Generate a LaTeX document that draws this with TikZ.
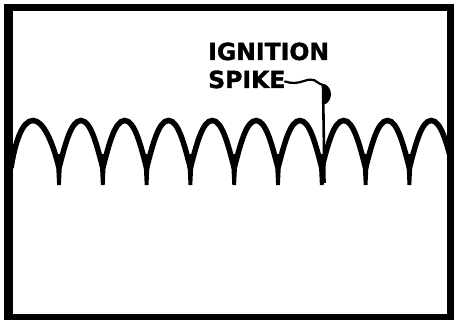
\documentclass[tikz,border=0pt]{standalone}
\usepackage{fontspec}
\newfontfamily\labfont{DejaVu Sans}[BoldFont={DejaVu Sans Bold},BoldFeatures={FakeBold=1.5}]
\begin{document}
\begin{tikzpicture}[x=1pt,y=-1pt,
  wave/.style={line width=5.5pt},
  frame/.style={line width=6.5pt},
  lab/.style={font=\labfont\bfseries\fontsize{23.5}{23.5}\selectfont, inner sep=0pt, anchor=base west},
  leader/.style={line width=2.2pt, line cap=round}]
\useasboundingbox (0,0) rectangle (454,323);
\begin{scope}
  \clip (12,11) rectangle (449,314);
  % first (partial) arch
  \draw[wave] (11,168) .. controls (15,143) and (22,120.5) .. (33,120.5)
                       .. controls (43.5,120.5) and (53,143) .. (59,168);
  \foreach \i in {0,...,9}{
    \pgfmathsetmacro\c{59+43.8*\i}
    \draw[wave] (\c,168) .. controls (\c+6,145) and (\c+12,120.5) .. (\c+21.9,120.5)
                         .. controls (\c+31.8,120.5) and (\c+37.8,145) .. (\c+43.8,168);
    \fill (\c-3.4,154) -- (\c+3.4,154) -- (\c+1.9,185) -- (\c-1.9,185) -- cycle;
  }
\end{scope}
% frame
\draw[frame] (8.5,7.5) rectangle (450.5,317);
\fill (4,4.5) rectangle (12.5,320);
% labels
\node[lab] (ign) at (208,60) {IGNITION};
\node[lab] (spk) at (208,88) {SPIKE};
% ignition spike marker
\coordinate (lstart) at (285,81.5);
\coordinate (stop) at (323,85);
\coordinate (sbot) at (324.5,183);
\draw[leader] (lstart) .. controls (292,84) and (298,83) .. (304,81)
   .. controls (309,79) and (314,79) .. (317,82) .. controls (319,84) and (321,84) .. (stop);
\draw[line width=2.6pt] (stop) -- (sbot);
\fill (322,84) .. controls (326,83) and (331,88) .. (331,94)
   .. controls (331,99) and (328,103) .. (325.5,104) -- (323,104) -- cycle;
\end{tikzpicture}
\end{document}
